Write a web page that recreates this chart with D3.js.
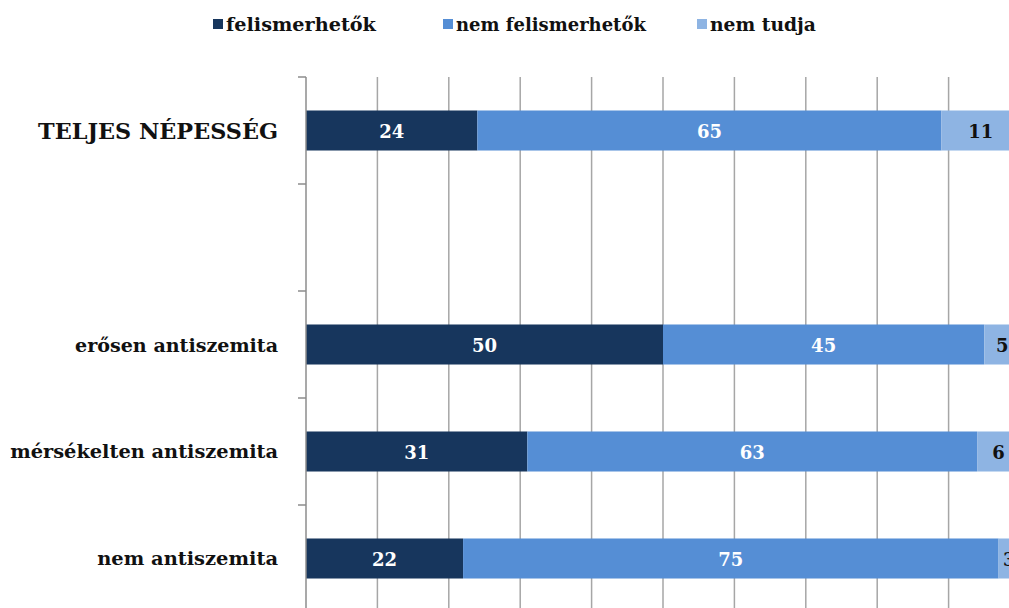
<!DOCTYPE html>
<html><head><meta charset="utf-8">
<script src="https://cdn.jsdelivr.net/npm/d3@7"></script>
<style>body{margin:0;background:#fff;overflow:hidden}svg{display:block}</style>
</head><body>
<script>
const categories = ["TELJES NÉPESSÉG", " ", "erősen antiszemita", "mérsékelten antiszemita", "nem antiszemita"];
const seriesNames = ["felismerhetők", "nem felismerhetők", "nem tudja"];
const felismerhetok = [24, null, 50, 31, 22];
const nemFelismerhetok = [65, null, 45, 63, 75];
const nemTudja = [11, null, 5, 6, 3];
const colors = ["#17365D", "#558ED5", "#8EB4E3"];
const labelColors = ["#ffffff", "#ffffff", "#111111"];

const W = 1009, H = 608;
const svg = d3.select("body").append("svg").attr("width", W).attr("height", H);
const font = "'DejaVu Serif', 'Liberation Serif', serif";

// fit a text element to a target width by adjusting font-size
function fit(sel, target, base) {
  sel.each(function(d, i) {
    const t = typeof target === "function" ? target(d, i) : target;
    if (!t) return;
    const w = this.getComputedTextLength();
    if (w > 0) d3.select(this).attr("font-size", base * t / w);
  });
}

const x = d3.scaleLinear().domain([0, 100]).range([306, 1020]);
const y = d3.scaleBand().domain(categories).range([77, 612]).paddingInner(0.626).paddingOuter(0.313);

// gridlines
svg.append("g").selectAll("line").data(d3.range(10, 101, 10)).join("line")
  .attr("x1", d => x(d)).attr("x2", d => x(d)).attr("y1", 77).attr("y2", 612)
  .attr("stroke", "#a6a6a6").attr("stroke-width", 1.5);

// stacked data
const rows = categories.map((c, i) => ({cat: c, v: [felismerhetok[i], nemFelismerhetok[i], nemTudja[i]]}));
const segs = [];
rows.forEach(r => {
  if (r.v[0] == null) return;
  let acc = 0;
  r.v.forEach((v, k) => { segs.push({cat: r.cat, k, x0: acc, x1: acc + v, v}); acc += v; });
});

svg.append("g").selectAll("rect").data(segs).join("rect")
  .attr("x", d => x(d.x0)).attr("width", d => x(d.x1) - x(d.x0))
  .attr("y", d => y(d.cat)).attr("height", y.bandwidth())
  .attr("fill", d => colors[d.k]);

svg.append("g").selectAll("text").data(segs).join("text")
  .attr("x", d => x((d.x0 + d.x1) / 2)).attr("y", d => y(d.cat) + y.bandwidth() / 2 + 1)
  .attr("text-anchor", "middle").attr("dominant-baseline", "central")
  .attr("font-family", font).attr("font-weight", "bold").attr("font-size", 18)
  .attr("fill", d => labelColors[d.k]).text(d => d.v);

// axis line and ticks at band boundaries
const ax = svg.append("g");
ax.append("line").attr("x1", x(0)).attr("x2", x(0)).attr("y1", 77).attr("y2", 612)
  .attr("stroke", "#8c8c8c").attr("stroke-width", 1.5);
ax.selectAll("line.t").data(d3.range(categories.length + 1)).join("line").attr("class", "t")
  .attr("x1", x(0) - 8).attr("x2", x(0))
  .attr("y1", i => 77 + i * y.step()).attr("y2", i => 77 + i * y.step())
  .attr("stroke", "#8c8c8c").attr("stroke-width", 1.5);

// category labels
const catWidths = [240, 0, 203, 268, 181];
const cl = svg.append("g").selectAll("text").data(categories).join("text")
  .attr("x", 278).attr("y", c => y(c) + y.bandwidth() / 2)
  .attr("text-anchor", "end").attr("dominant-baseline", "central")
  .attr("font-family", font).attr("font-weight", "bold")
  .attr("font-size", 17)
  .attr("fill", "#111").text(c => c.trim());
fit(cl, (d, i) => catWidths[i], 17);

// legend
const legX = [213, 443, 697];
const legW = [150, 190, 106];
const lg = svg.append("g").selectAll("g").data(seriesNames).join("g")
  .attr("transform", (d, i) => `translate(${legX[i]},24)`);
lg.append("rect").attr("x", 0).attr("y", -5).attr("width", 10).attr("height", 10)
  .attr("fill", (d, i) => colors[i]);
const lt = lg.append("text").attr("x", 13).attr("y", 0).attr("dominant-baseline", "central")
  .attr("font-family", font).attr("font-weight", "bold").attr("font-size", 17)
  .attr("fill", "#111").text(d => d);
fit(lt, (d, i) => legW[i], 17);
</script>
</body></html>
